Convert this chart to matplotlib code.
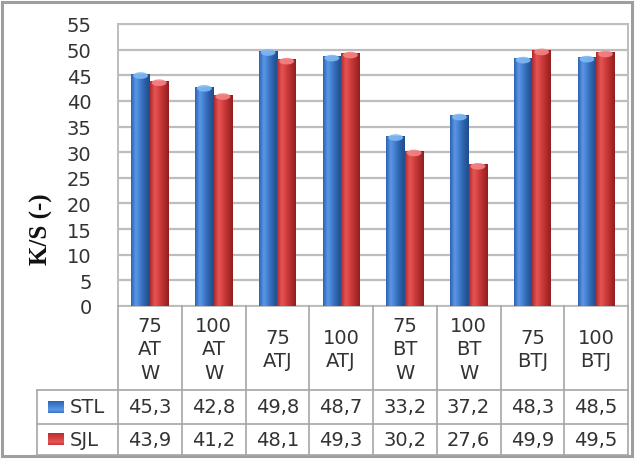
import numpy as np
import matplotlib
matplotlib.use("Agg")
import matplotlib.pyplot as plt
from matplotlib.colors import LinearSegmentedColormap
from matplotlib.patches import Rectangle, Ellipse

categories = ["75\nAT\nW", "100\nAT\nW", "75\nATJ", "100\nATJ",
              "75\nBT\nW", "100\nBT\nW", "75\nBTJ", "100\nBTJ"]
series_names = ["STL", "SJL"]
stl = [45.3, 42.8, 49.8, 48.7, 33.2, 37.2, 48.3, 48.5]
sjl = [43.9, 41.2, 48.1, 49.3, 30.2, 27.6, 49.9, 49.5]
yticks = [0, 5, 10, 15, 20, 25, 30, 35, 40, 45, 50, 55]

W, H = 638, 460
FONT = "DejaVu Sans"
FS = 14
TXT = "#333333"

fig = plt.figure(figsize=(W / 100, H / 100), dpi=100)

def fx(px):
    return px / W

def fy(py):
    return 1 - py / H

L, R, T, B = 118, 628, 25, 307
rect = [fx(L), fy(B), fx(R) - fx(L), fy(T) - fy(B)]
ax = fig.add_axes(rect)
n = len(categories)
x = np.arange(n)
ax.set_yticks(yticks)
ax.set_yticklabels([str(v) for v in yticks], fontsize=FS, family=FONT, color=TXT)
ax.tick_params(axis="y", length=0, pad=19)
ax.set_xticks([])
ax.yaxis.grid(True, color="#BDBDBD", lw=1.6)
ax.set_axisbelow(True)
for s in ax.spines.values():
    s.set_color("#BDBDBD")
    s.set_linewidth(1.4)

blue_cm = LinearSegmentedColormap.from_list("b", ["#2A62B0", "#5C98E6", "#3F7BCC", "#2C5FA6", "#1F4C8E"])
red_cm = LinearSegmentedColormap.from_list("r", ["#AE2A2A", "#E85555", "#D13D3D", "#B42C2C", "#901F1F"])
grad = np.linspace(0, 1, 64).reshape(1, -1)

bw = 0.29
series = [(stl, -bw / 2, blue_cm, "#80B8F4"), (sjl, bw / 2, red_cm, "#F48484")]
for vals, off, cm, capc in series:
    bars = ax.bar(x + off, vals, width=bw, color="none", edgecolor="none", zorder=3)
    for b in bars:
        x0, y0 = b.get_x(), b.get_y()
        w, h = b.get_width(), b.get_height()
        im = ax.imshow(grad, extent=[x0, x0 + w, y0, y0 + h], cmap=cm,
                       aspect="auto", zorder=3, interpolation="bicubic")
        im.set_clip_path(b)
        cap = Ellipse((x0 + w / 2, y0 + h - 0.35), w * 0.8, 1.3,
                      facecolor=capc, edgecolor="none", zorder=4, alpha=0.9)
        ax.add_patch(cap)
ax.set_aspect("auto")
ax.set_xlim(-0.5, n - 0.5)
ax.set_ylim(0, 55)

fig.text(fx(41), fy(229), "K/S (-)", rotation=90, ha="center", va="center",
         fontsize=18, fontweight="bold", family="Liberation Serif", color="#111111")

# data table drawn in pixel coordinates of the figure
tax = fig.add_axes([0, 0, 1, 1])
tax.patch.set_visible(False)
tax.axis("off")
lc = "#A6A6A6"
cw = (R - L) / n
rows_y = [B, 391, 425, 456]
leg_l = 37
for k in range(n + 1):
    xx = L + k * cw
    tax.plot([xx, xx], [B, rows_y[-1]], color=lc, lw=1.2)
tax.plot([leg_l, leg_l], [rows_y[1], rows_y[-1]], color=lc, lw=1.2)
for yy in rows_y[1:]:
    tax.plot([leg_l, R], [yy, yy], color=lc, lw=1.2)

for k, cat in enumerate(categories):
    tax.text(L + (k + 0.5) * cw, (rows_y[0] + rows_y[1]) / 2 + 1, cat, ha="center",
             va="center", fontsize=FS, family=FONT, color=TXT, linespacing=1.3)

key_cols = [blue_cm, red_cm]
for r, (name, vals) in enumerate(zip(series_names, [stl, sjl])):
    yc = (rows_y[r + 1] + rows_y[r + 2]) / 2
    tax.imshow(np.linspace(1, 0, 16).reshape(-1, 1) * 0.6 + 0.1,
               extent=[48, 64, yc + 6, yc - 6], cmap=key_cols[r], aspect="auto",
               vmin=0, vmax=1)
    tax.text(70, yc, name, ha="left", va="center", fontsize=FS, family=FONT, color=TXT)
    for k, v in enumerate(vals):
        tax.text(L + (k + 0.5) * cw, yc, f"{v:.1f}".replace(".", ","), ha="center",
                 va="center", fontsize=FS, family=FONT, color=TXT)

tax.add_patch(Rectangle((2, 3), 630, 454, fill=False, edgecolor="#9E9E9E", lw=2.2))
tax.set_aspect("auto")
tax.set_xlim(0, W)
tax.set_ylim(H, 0)

fig.savefig("out.png", dpi=100)
